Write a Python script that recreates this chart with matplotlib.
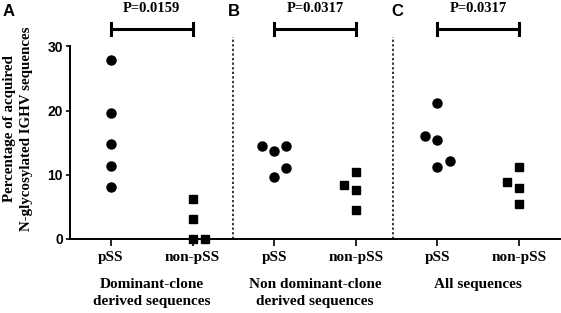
import matplotlib.pyplot as plt

# data
groups = ["Dominant-clone\nderived sequences",
          "Non dominant-clone\nderived sequences",
          "All sequences"]
panel_letters = ["A", "B", "C"]
categories = ["pSS", "non-pSS"]
p_values = ["P=0.0159", "P=0.0317", "P=0.0317"]

pss_a = [27.9, 19.6, 14.8, 11.3, 8.1]
non_a = [6.2, 3.1, 0.0, 0.0]
pss_b = [14.4, 13.7, 14.5, 11.0, 9.6]
non_b = [10.5, 8.4, 7.7, 4.5]
pss_c = [21.2, 16.0, 15.4, 12.1, 11.2]
non_c = [11.2, 8.8, 7.9, 5.5]

# horizontal scatter of overlapping points (in units of one jitter step)
jit_pss_a = [0, 0, 0, 0, 0]
jit_non_a = [0, 0, 0, 1]
jit_pss_b = [-1, 0, 1, 1, 0]
jit_non_b = [0, -1, 0, 0]
jit_pss_c = [0, -1, 0, 1, 0]
jit_non_c = [0, -1, 0, 0]

series = [(pss_a, jit_pss_a, non_a, jit_non_a),
          (pss_b, jit_pss_b, non_b, jit_non_b),
          (pss_c, jit_pss_c, non_c, jit_non_c)]

serif = "Liberation Serif"
sans = "Liberation Sans"

fig = plt.figure(figsize=(5.61, 3.13), dpi=100)
ax = fig.add_axes([70 / 561, 74 / 313, 490 / 561, 239 / 313])

step = 0.15
for g, (p, pj, n, nj) in enumerate(series):
    x0 = 2 * g
    ax.plot([x0 + j * step for j in pj], p, "o", color="black", ms=6.5, clip_on=False)
    ax.plot([x0 + 1 + j * step for j in nj], n, "s", color="black", ms=6, clip_on=False)
    # significance bracket
    yb = 32.7
    ax.plot([x0, x0 + 1], [yb, yb], color="black", lw=2.2, clip_on=False)
    ax.plot([x0, x0], [yb - 0.9, yb + 0.9], color="black", lw=2.2, clip_on=False)
    ax.plot([x0 + 1, x0 + 1], [yb - 0.9, yb + 0.9], color="black", lw=2.2, clip_on=False)
    ax.text(x0 + 0.5, 35.8, p_values[g], ha="center", va="center",
            fontsize=10.5, fontweight="bold", family=serif)
    ax.text(x0 + 0.5, -6.0, groups[g], ha="center", va="top",
            fontsize=11, fontweight="bold", family=serif, linespacing=1.4)

for xd in [1.5, 3.45]:
    ax.plot([xd, xd], [0, 31.4], color="black", lw=1.1, ls=(0, (1.5, 1.5)), clip_on=False)

ax.set_xlim(-0.5, 5.5)
ax.set_ylim(0, 37.2)
ax.set_xticks(range(6))
ax.set_xticklabels(categories * 3, fontsize=11, fontweight="bold", family=serif)
ax.set_yticks([0, 10, 20, 30])
ax.set_yticklabels(["0", "10", "20", "30"], fontsize=10, fontweight="bold", family=sans)
ax.tick_params(axis="x", length=5, width=1.2, pad=4)
ax.tick_params(axis="y", length=3, width=1.2, pad=2)
for s in ["top", "right"]:
    ax.spines[s].set_visible(False)
ax.spines["left"].set_bounds(0, 30)
ax.spines["left"].set_linewidth(1.4)
ax.spines["bottom"].set_linewidth(1.4)

ax.set_ylabel("Percentage of acquired\nN-glycosylated IGHV sequences",
              fontsize=10.8, fontweight="bold", family=serif, linespacing=1.45)
ax.yaxis.set_label_coords(-0.075, 0.46)

for letter, xp in zip(panel_letters, [3, 228, 391]):
    fig.text(xp / 561, 1 - 12 / 313, letter, ha="left", va="center",
             fontsize=12, fontweight="bold", family=sans)

fig.savefig("out.png", dpi=100)
